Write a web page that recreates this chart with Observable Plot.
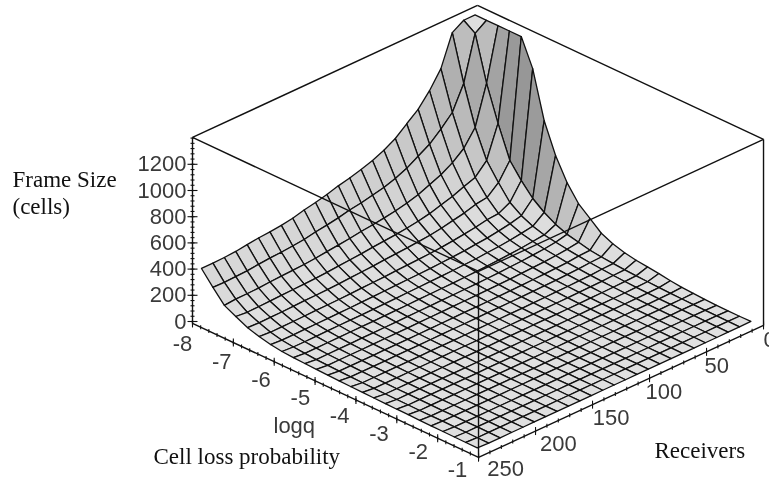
<!DOCTYPE html>
<html>
<head>
<meta charset="utf-8">
<style>
html,body{margin:0;padding:0;background:#fff;overflow:hidden}
svg{display:block;filter:blur(.45px)}
</style>
<script src="https://cdn.jsdelivr.net/npm/d3@7"></script>
<script src="https://cdn.jsdelivr.net/npm/@observablehq/plot@0.6"></script>
</head>
<body>
<div id="chart"></div>
<script>
// Grid axes
const receivers = [250,240,230,220,210,200,190,180,170,160,150,140,130,120,110,100,90,80,70,60,50,40,30,20,10];
const logqGrid = [-7.78,-7.5,-7.22,-6.94,-6.65,-6.37,-6.09,-5.81,-5.53,-5.25,-4.97,-4.69,-4.41,-4.12,-3.84,-3.56,-3.28,-3,-2.72,-2.44,-2.16,-1.87,-1.59,-1.31,-1.03];
// Frame size (cells): one row per receivers value, one column per logq value
const frameSize = [
[437,333,237,193,150,123,103,91,85,81,77,74,71,69,67,65,63,61,60,58,57,56,55,54,54],
[437,332,244,185,147,116,96,85,77,71,67,64,61,59,57,55,54,53,52,52,52,51,51,50,50],
[440,335,245,187,148,116,97,85,77,71,68,64,61,59,57,55,54,53,52,52,52,51,51,50,50],
[446,339,248,189,149,117,98,86,78,72,68,64,61,59,57,55,54,53,52,52,52,51,51,50,50],
[458,348,254,193,152,119,99,87,79,72,68,64,61,59,57,55,54,53,52,52,52,51,51,50,50],
[468,355,259,196,155,121,100,88,79,73,69,65,62,59,57,55,54,53,53,52,52,51,51,50,50],
[474,360,262,198,156,122,101,88,80,73,69,65,62,59,57,56,54,53,53,52,52,51,51,50,50],
[484,367,267,202,159,124,102,89,80,74,70,65,62,60,57,56,54,53,53,52,52,51,51,50,50],
[498,377,274,207,162,126,104,90,81,75,70,66,63,60,58,56,54,54,53,52,52,51,51,50,50],
[520,393,285,215,168,130,106,92,83,76,71,66,63,60,58,56,55,54,53,52,52,51,51,50,50],
[538,406,294,221,172,133,109,94,84,77,72,67,64,61,58,56,55,54,53,52,52,51,51,50,50],
[558,421,304,228,177,136,111,96,86,78,73,68,64,61,59,57,55,54,53,53,52,52,51,51,50],
[584,440,317,237,184,141,114,98,87,79,74,69,65,62,59,57,55,54,53,53,52,52,51,51,50],
[604,454,327,244,189,144,116,100,89,80,75,69,66,62,59,57,56,54,53,53,52,52,51,51,50],
[628,472,339,252,195,148,119,102,90,82,76,70,66,63,60,58,56,55,53,53,52,52,51,51,50],
[656,492,353,262,202,153,123,105,92,83,77,71,67,63,60,58,56,55,54,53,52,52,51,51,50],
[694,520,372,275,211,159,127,108,95,85,79,73,68,64,61,58,56,55,54,53,53,52,51,51,50],
[744,557,397,293,224,168,133,112,99,88,81,74,69,65,62,59,57,56,54,53,53,52,51,51,50],
[816,609,433,318,242,180,142,119,104,92,84,77,71,67,63,60,58,56,55,54,53,52,52,51,50],
[886,660,468,343,259,192,150,125,109,96,88,79,73,68,64,61,58,57,55,54,53,53,52,51,50],
[988,735,519,378,285,209,163,134,116,102,92,83,76,71,66,62,59,58,56,55,54,53,52,51,50],
[1116,822,588,408,297,215,178,146,125,109,98,87,80,73,68,64,61,59,56,55,54,53,52,51,50],
[1351,1003,708,497,370,260,200,160,135,120,107,96,86,79,72,67,63,60,58,56,55,54,53,51,50],
[1405,1345,1005,740,499,387,291,225,175,140,120,100,90,82,75,70,66,62,59,57,55,53,52,51,50],
[1405,1405,1405,1405,1405,1201,846,620,454,335,262,190,150,125,108,98,88,74,65,60,55,52,50,50,52]
];
// Axis ticks
const zTicks = [0,200,400,600,800,1000,1200];
const qTicks = [-8,-7,-6,-5,-4,-3,-2,-1];
const rTicks = [250,200,150,100,50,0];
const zMinor = d3.range(0,1405,40);
const qMinor = d3.range(-8,-0.99,0.2);
const rMinor = d3.range(0,251,10);
const boxEdges = [
 [[-8,250,-15],[-8,250,1405]],[[-1,250,-15],[-1,250,1405]],[[-1,0,-15],[-1,0,1405]],
 [[-8,250,-15],[-1,250,-15]],[[-1,250,-15],[-1,0,-15]],
 [[-8,250,1405],[-1,250,1405]],[[-1,250,1405],[-1,0,1405]],[[-1,0,1405],[-8,0,1405]],[[-8,0,1405],[-8,250,1405]]
];

// Fixed parallel view of the data box
const px = (q,r) => 192 + 40.86*(q+8) + 1.14*(250-r);
const py = (q,r,z) => 321 + 19.14*(q+8) - 0.528*(250-r) - 0.131*z;

const cells = [];
for (let i = receivers.length-2; i >= 0; i--) {
  for (let j = 0; j < logqGrid.length-1; j++) {
    const a = frameSize[i][j], b = frameSize[i][j+1], c = frameSize[i+1][j+1], d = frameSize[i+1][j];
    const sj = ((b-a)+(c-d))/2*0.003, si = ((d-a)+(c-b))/2*0.003;
    const g = Math.round(140 + 84/(1+si*si+sj*sj));
    const shade = `rgb(${g},${g},${g})`;
    const id = i*100+j;
    [[i,j],[i,j+1],[i+1,j+1],[i+1,j]].forEach(([ii,jj]) => cells.push({
      id, shade,
      x: px(logqGrid[jj],receivers[ii]),
      y: py(logqGrid[jj],receivers[ii],frameSize[ii][jj])
    }));
  }
}

const edges = boxEdges.map(([p,s]) => ({x1:px(p[0],p[1]),y1:py(p[0],p[1],p[2]),x2:px(s[0],s[1]),y2:py(s[0],s[1],s[2])}));
const zBase = z => ({x:px(-8,250),y:py(-8,250,z)});
const qBase = q => ({x:px(q,250),y:py(q,250,-15)});
const rBase = r => ({x:px(-1,r),y:py(-1,r,-15)});
const tickRows = [
  ...zMinor.map(z => ({...zBase(z),dx:2,dy:0})),
  ...zTicks.map(z => ({...zBase(z),dx:5,dy:0})),
  ...qMinor.map(q => ({...qBase(q),dx:0,dy:2})),
  ...qTicks.map(q => ({...qBase(q),dx:0,dy:4})),
  ...rMinor.map(r => ({...rBase(r),dx:0,dy:2})),
  ...rTicks.map(r => ({...rBase(r),dx:0,dy:4}))
];
const sans = "'Liberation Sans',Arial,sans-serif", serif = "'Liberation Serif','Times New Roman',serif";
const tickFont = {fontFamily:sans,fontSize:22,fill:"#3a3a3a"};
const noteFont = {fontFamily:serif,fontSize:23,fill:"#111",frameAnchor:"top-left",textAnchor:"start",lineAnchor:"middle",text:d=>d};

const plot = Plot.plot({
  width:769,height:481,margin:0,
  x:{domain:[0,769],range:[0,769],axis:null},
  y:{domain:[0,481],range:[0,481],axis:null},
  color:{type:"identity"},
  marks:[
    Plot.line(cells,{x:"x",y:"y",z:"id",fill:"shade",stroke:"#111",strokeWidth:1.3,curve:"linear-closed",strokeLinejoin:"round"}),
    Plot.link(edges,{x1:"x1",y1:"y1",x2:"x2",y2:"y2",stroke:"#111",strokeWidth:1.4}),
    Plot.link(tickRows,{x1:d=>d.x-d.dx,y1:d=>d.y-d.dy,x2:d=>d.x+d.dx,y2:d=>d.y+d.dy,stroke:"#111",strokeWidth:1.1}),
    Plot.text(zTicks,{x:d=>zBase(d).x-6,y:d=>zBase(d).y,text:d=>String(d),textAnchor:"end",...tickFont}),
    Plot.text(qTicks,{x:d=>qBase(d).x-10-(d+8)*11/7,y:d=>qBase(d).y+20-(d+8),text:d=>String(d).replace("−","-"),...tickFont}),
    Plot.text(rTicks.filter(r=>r>0),{x:d=>rBase(d).x+6+21*d/250,y:d=>rBase(d).y+15-3*d/250,text:d=>String(d),...tickFont}),
    Plot.text([0],{x:()=>rBase(0).x,y:()=>rBase(0).y+15,text:()=>"0",textAnchor:"start",...tickFont}),
    Plot.text(["logq"],{frameAnchor:"top-left",dx:273,dy:417,text:d=>d,textAnchor:"start",...tickFont}),
    Plot.text(["Frame Size"],{...noteFont,dx:12,dy:179}),
    Plot.text(["(cells)"],{...noteFont,dx:12,dy:206}),
    Plot.text(["Cell loss probability"],{...noteFont,dx:153,dy:456}),
    Plot.text(["Receivers"],{...noteFont,dx:654,dy:450})
  ]
});
document.getElementById("chart").append(plot);
</script>
</body>
</html>
